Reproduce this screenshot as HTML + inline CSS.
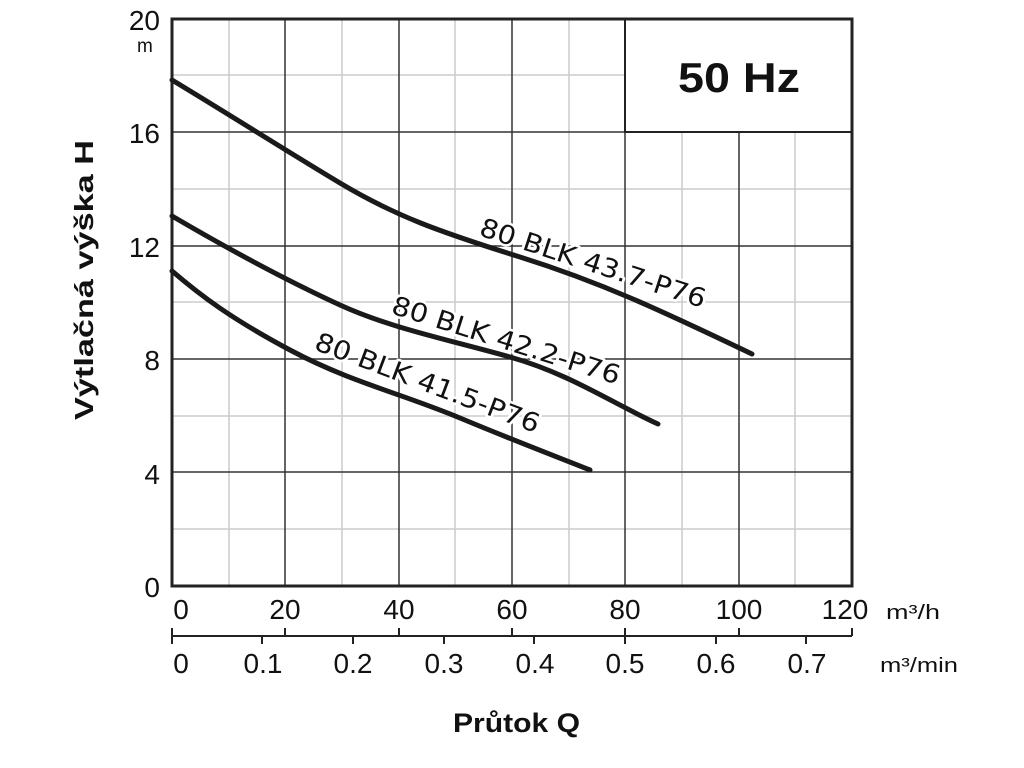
<!DOCTYPE html>
<html><head><meta charset="utf-8"><style>body{margin:0;background:#fff}svg{display:block}</style></head>
<body>
<svg width="1024" height="768" xmlns="http://www.w3.org/2000/svg" font-family="Liberation Sans, sans-serif">
<g stroke="#ccc" stroke-width="1.5">
<line x1="229" y1="19" x2="229" y2="586"/><line x1="342" y1="19" x2="342" y2="586"/><line x1="455" y1="19" x2="455" y2="586"/><line x1="569" y1="19" x2="569" y2="586"/><line x1="682" y1="19" x2="682" y2="586"/><line x1="795" y1="19" x2="795" y2="586"/>
<line x1="172" y1="75" x2="852" y2="75"/><line x1="172" y1="189" x2="852" y2="189"/><line x1="172" y1="302" x2="852" y2="302"/><line x1="172" y1="416" x2="852" y2="416"/><line x1="172" y1="529" x2="852" y2="529"/>
</g>
<g stroke="#333" stroke-width="1.5">
<line x1="285" y1="19" x2="285" y2="586"/><line x1="399" y1="19" x2="399" y2="586"/><line x1="512" y1="19" x2="512" y2="586"/><line x1="625" y1="19" x2="625" y2="586"/><line x1="739" y1="19" x2="739" y2="586"/>
<line x1="172" y1="132" x2="852" y2="132"/><line x1="172" y1="246" x2="852" y2="246"/><line x1="172" y1="359" x2="852" y2="359"/><line x1="172" y1="472" x2="852" y2="472"/>
</g>
<rect x="625" y="19" width="227" height="113" fill="#fff" stroke="#222" stroke-width="2"/>
<text x="678" y="92" font-size="42" font-weight="bold" fill="#111" textLength="122" lengthAdjust="spacingAndGlyphs">50 Hz</text>
<rect x="172" y="19" width="680" height="567" fill="none" stroke="#222" stroke-width="3"/>
<g fill="none" stroke="#1a1a1a" stroke-width="5" stroke-linecap="round" stroke-linejoin="round">
<path d="M172,80 C230,115 285,150 340,183 S440,232 520,257 S660,310 752,354"/>
<path d="M172,216 C230,250 290,282 340,305 S450,340 510,357 S610,402 658,424"/>
<path d="M172,271 C200,295 230,318 290,350 S400,393 460,418 S560,458 590,470"/>
</g>
<g font-family="DejaVu Sans, sans-serif" font-size="26" fill="#111" stroke="#fff" stroke-width="5" paint-order="stroke" stroke-linejoin="round">
<text transform="translate(478,235) rotate(18)" textLength="236" lengthAdjust="spacingAndGlyphs">80 BLK 43.7-P76</text>
<text transform="translate(390,313) rotate(17.5)" textLength="238" lengthAdjust="spacingAndGlyphs">80 BLK 42.2-P76</text>
<text transform="translate(313,349) rotate(20.7)" textLength="238" lengthAdjust="spacingAndGlyphs">80 BLK 41.5-P76</text>
</g>
<g font-size="28" fill="#111" text-anchor="end">
<text x="160" y="30">20</text><text x="160" y="143">16</text><text x="160" y="257">12</text><text x="160" y="370">8</text><text x="160" y="484">4</text><text x="160" y="597">0</text>
</g>
<text x="137" y="52" font-size="19" fill="#111">m</text>
<text transform="translate(93,280) rotate(-90)" font-size="26" font-weight="bold" text-anchor="middle" fill="#111" textLength="280" lengthAdjust="spacingAndGlyphs">Výtlačná výška H</text>
<g font-size="28" fill="#111" text-anchor="middle">
<text x="181" y="619">0</text><text x="285" y="619">20</text><text x="399" y="619">40</text><text x="512" y="619">60</text><text x="625" y="619">80</text><text x="739" y="619">100</text><text x="845" y="619">120</text>
<text x="181" y="673">0</text><text x="263" y="673">0.1</text><text x="353" y="673">0.2</text><text x="444" y="673">0.3</text><text x="535" y="673">0.4</text><text x="625" y="673">0.5</text><text x="716" y="673">0.6</text><text x="807" y="673">0.7</text>
</g>
<text x="886" y="619" font-size="20" fill="#111" textLength="54" lengthAdjust="spacingAndGlyphs">m³/h</text>
<text x="880" y="672" font-size="20" fill="#111" textLength="78" lengthAdjust="spacingAndGlyphs">m³/min</text>
<g stroke="#222" stroke-width="2">
<line x1="172" y1="636" x2="852" y2="636"/>
<line x1="172" y1="628" x2="172" y2="644"/><line x1="285" y1="628" x2="285" y2="636"/><line x1="399" y1="628" x2="399" y2="636"/><line x1="512" y1="628" x2="512" y2="636"/><line x1="625" y1="628" x2="625" y2="636"/><line x1="739" y1="628" x2="739" y2="636"/><line x1="852" y1="628" x2="852" y2="636"/>
<line x1="262" y1="636" x2="262" y2="644"/><line x1="353" y1="636" x2="353" y2="644"/><line x1="444" y1="636" x2="444" y2="644"/><line x1="534" y1="636" x2="534" y2="644"/><line x1="625" y1="636" x2="625" y2="644"/><line x1="716" y1="636" x2="716" y2="644"/><line x1="806" y1="636" x2="806" y2="644"/>
</g>
<text x="453" y="732" font-size="27" font-weight="bold" fill="#111" textLength="127" lengthAdjust="spacingAndGlyphs">Průtok Q</text>
</svg>
</body></html>
